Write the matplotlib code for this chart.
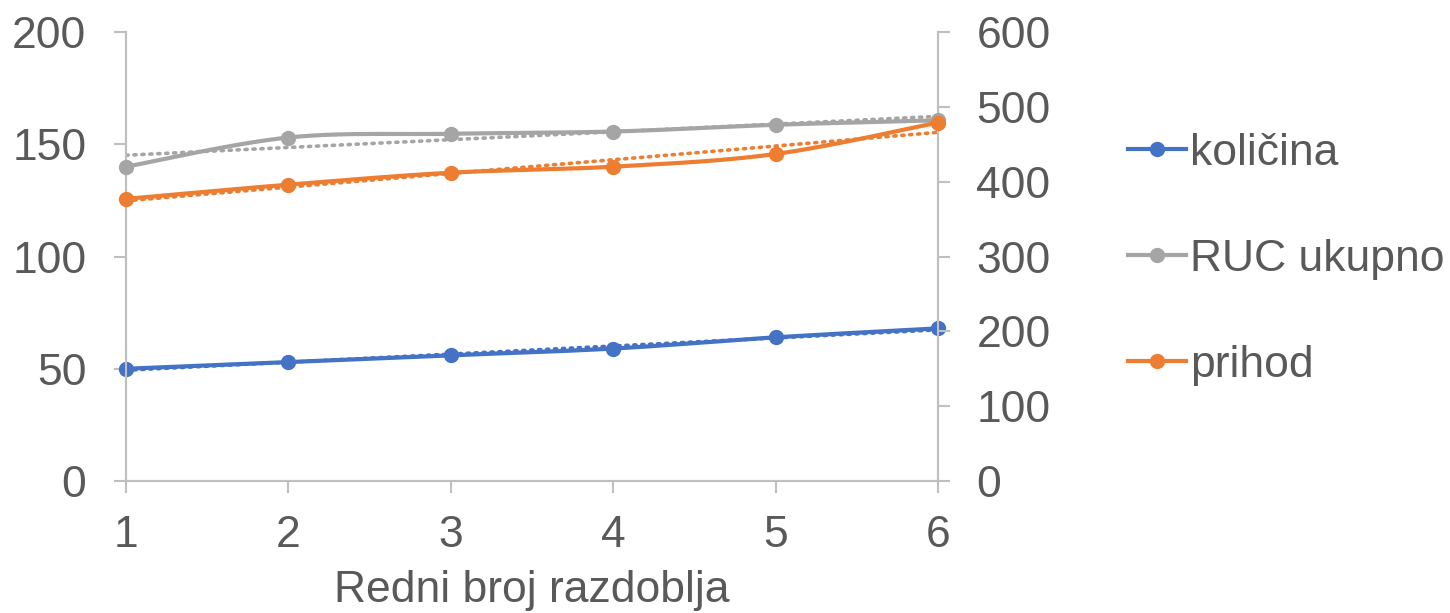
import numpy as np
from matplotlib import pyplot as plt
from matplotlib.lines import Line2D

plt.rcParams['font.family'] = ['Liberation Sans', 'DejaVu Sans']

# podaci
razdoblje = [1, 2, 3, 4, 5, 6]
kolicina = [50, 53, 56, 59, 64, 68]          # lijeva os
ruc_ukupno = [420, 459, 464, 467, 476, 482]  # desna os
prihod = [377, 396, 412, 420, 437, 479]      # desna os

serije = ["količina", "RUC ukupno", "prihod"]
boje = ["#4472C4", "#A5A5A5", "#ED7D31"]

TEXT = "#595959"
SPINE = "#BFBFBF"
FS = 32


def smooth(x, y, n=40):
    # Catmull-Rom preko Bezier krivulja (kao "smoothed line" u Excelu)
    x = np.asarray(x, float)
    y = np.asarray(y, float)
    p = np.column_stack([x, y])
    pts = [p[0]]
    for i in range(len(p) - 1):
        p0 = p[i - 1] if i > 0 else p[i]
        p1, p2 = p[i], p[i + 1]
        p3 = p[i + 2] if i + 2 < len(p) else p[i + 1]
        c1 = p1 + (p2 - p0) / 6
        c2 = p2 - (p3 - p1) / 6
        t = np.linspace(0, 1, n)[1:, None]
        seg = ((1 - t) ** 3) * p1 + 3 * ((1 - t) ** 2) * t * c1 + 3 * (1 - t) * t ** 2 * c2 + t ** 3 * p2
        pts.extend(seg)
    pts = np.array(pts)
    return pts[:, 0], pts[:, 1]


def trend(ax, x, y, color):
    k, b = np.polyfit(x, y, 1)
    xs = np.array([x[0], x[-1]])
    ax.plot(xs, k * xs + b, color=color, lw=2.6, linestyle=(0, (0.6, 1.6)),
            dash_capstyle="round", zorder=2)


fig = plt.figure(figsize=(14.5, 6.13), dpi=100)
ax = fig.add_axes([0.0869, 0.2153, 0.56, 0.7325])
ax2 = ax.twinx()

# količina na lijevoj osi
trend(ax, razdoblje, kolicina, boje[0])
sx, sy = smooth(razdoblje, kolicina)
ax.plot(sx, sy, color=boje[0], lw=3, zorder=3)
ax.plot(razdoblje, kolicina, "o", color=boje[0], ms=10, zorder=4, clip_on=False)

# RUC i prihod na desnoj osi
for vals, c in [(ruc_ukupno, boje[1]), (prihod, boje[2])]:
    trend(ax2, razdoblje, vals, c)
    sx, sy = smooth(razdoblje, vals)
    ax2.plot(sx, sy, color=c, lw=3, zorder=3)
    ax2.plot(razdoblje, vals, "o", color=c, ms=10, zorder=4, clip_on=False)

ax.set_xlim(1, 6)
ax.set_ylim(0, 200)
ax2.set_ylim(0, 600)
ax.set_xticks(razdoblje)
ax.set_yticks([0, 50, 100, 150, 200])
ax2.set_yticks([0, 100, 200, 300, 400, 500, 600])

for a in (ax, ax2):
    for s in a.spines.values():
        s.set_color(SPINE)
        s.set_linewidth(1.5)
    a.spines["top"].set_visible(False)
    a.tick_params(colors=TEXT, labelsize=FS, length=8.6, width=1.5, color=SPINE)
ax.tick_params(axis="y", pad=20)
ax2.tick_params(axis="y", pad=19)
ax.tick_params(axis="x", pad=16)

ax.set_xlabel("Redni broj razdoblja", fontsize=FS, color=TEXT, labelpad=10)

handles = [Line2D([], [], color=c, lw=3, marker="o", ms=10) for c in boje]
fig.legend(handles, serije, loc="upper left", bbox_to_anchor=(0.766, 0.812),
           frameon=False, fontsize=FS, labelcolor=TEXT, handlelength=1.3,
           handletextpad=0.08, labelspacing=1.46, borderaxespad=0)

fig.savefig("out.png", dpi=100)
